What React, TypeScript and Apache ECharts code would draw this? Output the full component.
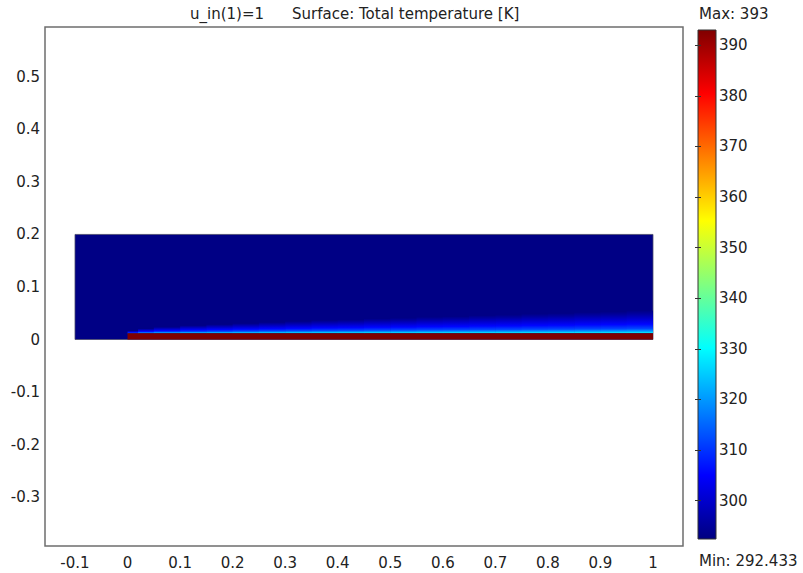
import React, { useEffect, useRef } from "react";
import * as echarts from "echarts";

// ---- data ----
const xTicks = [-0.1, 0, 0.1, 0.2, 0.3, 0.4, 0.5, 0.6, 0.7, 0.8, 0.9, 1];
const yTicks = [-0.3, -0.2, -0.1, 0, 0.1, 0.2, 0.3, 0.4, 0.5];
const colorbarTicks = [300, 310, 320, 330, 340, 350, 360, 370, 380, 390];
const tempRange = [292.433, 393];

// fluid domain: [x0, x1, y0, y1, T]
const fluidDomain = [[-0.1, 1, 0, 0.2, 293]];
// heated plate: [x0, x1, y0, y1, T]
const heatedPlate = [[0, 1, 0, 0.012, 393]];
// thermal boundary layer above the plate
const blEdges = [0, 0.02, 0.05, 0.1, 0.15, 0.2, 0.25, 0.3, 0.35, 0.4, 0.45, 0.5, 0.55, 0.6, 0.65, 0.7, 0.75, 0.8, 0.85, 0.9, 0.95, 1.0];
const blTop = [0.017, 0.021, 0.024, 0.027, 0.029, 0.031, 0.033, 0.035, 0.037, 0.038, 0.04, 0.041, 0.043, 0.044, 0.046, 0.047, 0.049, 0.05, 0.052, 0.053, 0.055];
const blWallT = [326, 330, 331, 331, 331, 331, 331, 331, 331, 331, 331, 331, 331, 331, 331, 331, 331, 331, 331, 331, 331];
const profileFrac = [0, 0.08, 0.2, 0.4, 0.65, 0.85, 1];
const profileTheta = [1, 0.75, 0.5, 0.33, 0.18, 0.07, 0];

const FONT = "DejaVu Sans, Verdana, sans-serif";

function jet(T: number): string {
  const t = Math.max(0, Math.min(1, (T - tempRange[0]) / (tempRange[1] - tempRange[0])));
  const c = (v: number) => Math.round(255 * Math.max(0, Math.min(1, v)));
  const r = c(1.5 - Math.abs(4 * t - 3));
  const g = c(1.5 - Math.abs(4 * t - 2));
  const b = c(1.5 - Math.abs(4 * t - 1));
  return `rgb(${r},${g},${b})`;
}

const rectItem = (params: any, api: any) => {
  const p0 = api.coord([api.value(0), api.value(3)]);
  const p1 = api.coord([api.value(1), api.value(2)]);
  return {
    type: "rect",
    shape: { x: p0[0], y: p0[1], width: p1[0] - p0[0], height: p1[1] - p0[1] },
    style: { fill: jet(api.value(4)) },
  };
};

export default function App() {
  const ref = useRef<HTMLDivElement>(null);
  useEffect(() => {
    if (!ref.current) return;
    const chart = echarts.init(ref.current, null, { renderer: "svg" });
    const fluidT = fluidDomain[0][4];
    const plateTop = heatedPlate[0][3];
    const blEnd = blEdges[blEdges.length - 1];
    const blData = blTop.map((top, i) => [blEdges[i], blEdges[i + 1], top, blWallT[i]]);
    const cbStops: any[] = [];
    for (let i = 0; i <= 40; i++) {
      const f = i / 40;
      cbStops.push({ offset: f, color: jet(tempRange[1] - f * (tempRange[1] - tempRange[0])) });
    }
    const label = { fontSize: 15, color: "#222", fontFamily: FONT };
    chart.setOption({
      animation: false,
      backgroundColor: "#fff",
      grid: [
        { left: 45, top: 27, width: 638, height: 519, show: true, borderColor: "#6e6e6e", borderWidth: 1.5, backgroundColor: "#fff" },
        { left: 698, top: 30, width: 18, height: 509, show: false },
      ],
      xAxis: [
        {
          gridIndex: 0, type: "value", min: -0.1571, max: 1.0571,
          axisLine: { show: false }, axisTick: { show: false }, splitLine: { show: false },
          axisLabel: { ...label, margin: 9, customValues: xTicks, formatter: (v: number) => String(+v.toFixed(2)) },
        },
        { gridIndex: 1, type: "value", min: 0, max: 1, show: false },
      ],
      yAxis: [
        {
          gridIndex: 0, type: "value", min: -0.393, max: 0.5948,
          axisLine: { show: false }, axisTick: { show: false }, splitLine: { show: false },
          axisLabel: { ...label, margin: 5, customValues: yTicks, formatter: (v: number) => String(+v.toFixed(2)) },
        },
        {
          gridIndex: 1, type: "value", position: "right", min: tempRange[0], max: tempRange[1],
          axisLine: { show: false }, splitLine: { show: false },
          axisTick: { show: true, inside: true, length: 3, customValues: colorbarTicks, lineStyle: { color: "#333", width: 1 } },
          axisLabel: { ...label, margin: 3, customValues: colorbarTicks },
          z: 5,
        },
        {
          gridIndex: 1, type: "value", position: "left", min: tempRange[0], max: tempRange[1],
          axisLine: { show: false }, splitLine: { show: false },
          axisTick: { show: true, inside: true, length: 3, customValues: colorbarTicks, lineStyle: { color: "#333", width: 1 } },
          axisLabel: { show: false },
          z: 5,
        },
      ],
      series: [
        {
          type: "custom", xAxisIndex: 0, yAxisIndex: 0, data: fluidDomain,
          renderItem: (p: any, api: any) => {
            const r: any = rectItem(p, api);
            r.style.stroke = "#4a4a6a";
            r.style.lineWidth = 0.8;
            return r;
          },
        },
        {
          type: "custom", xAxisIndex: 0, yAxisIndex: 0, data: blData,
          renderItem: (p: any, api: any) => {
            const p0 = api.coord([api.value(0), api.value(2)]);
            const p1 = api.coord([api.value(1), plateTop]);
            const xEnd = api.coord([blEnd, plateTop])[0];
            const tw = api.value(3);
            const stops = profileFrac.map((f, i) => ({
              offset: f,
              color: jet(fluidT + profileTheta[i] * (tw - fluidT)),
            }));
            return {
              type: "rect",
              shape: { x: p0[0], y: p0[1], width: Math.min(p1[0] + 0.5, xEnd) - p0[0], height: p1[1] - p0[1] },
              style: { fill: new echarts.graphic.LinearGradient(0, 1, 0, 0, stops) },
            };
          },
        },
        { type: "custom", xAxisIndex: 0, yAxisIndex: 0, data: heatedPlate, renderItem: rectItem },
        {
          type: "custom", xAxisIndex: 1, yAxisIndex: 1, data: [[0, 1, tempRange[0], tempRange[1]]],
          renderItem: (p: any, api: any) => {
            const p0 = api.coord([api.value(0), api.value(3)]);
            const p1 = api.coord([api.value(1), api.value(2)]);
            return {
              type: "rect",
              shape: { x: p0[0], y: p0[1], width: p1[0] - p0[0], height: p1[1] - p0[1] },
              style: { fill: new echarts.graphic.LinearGradient(0, 0, 0, 1, cbStops), stroke: "#333", lineWidth: 1 },
            };
          },
        },
      ],
      graphic: [
        { type: "text", left: 190, top: 6, style: { text: "u_in(1)=1", font: `15px ${FONT}`, fill: "#222" } },
        { type: "text", left: 292, top: 6, style: { text: "Surface: Total temperature [K]", font: `15px ${FONT}`, fill: "#222" } },
        { type: "text", left: 699, top: 6, style: { text: "Max: 393", font: `15px ${FONT}`, fill: "#222" } },
        { type: "text", left: 699, top: 553, style: { text: "Min: 292.433", font: `15px ${FONT}`, fill: "#222" } },
      ],
    });
    return () => chart.dispose();
  }, []);
  return <div ref={ref} style={{ position: "fixed", left: 0, top: 0, width: 803, height: 573 }} />;
}
